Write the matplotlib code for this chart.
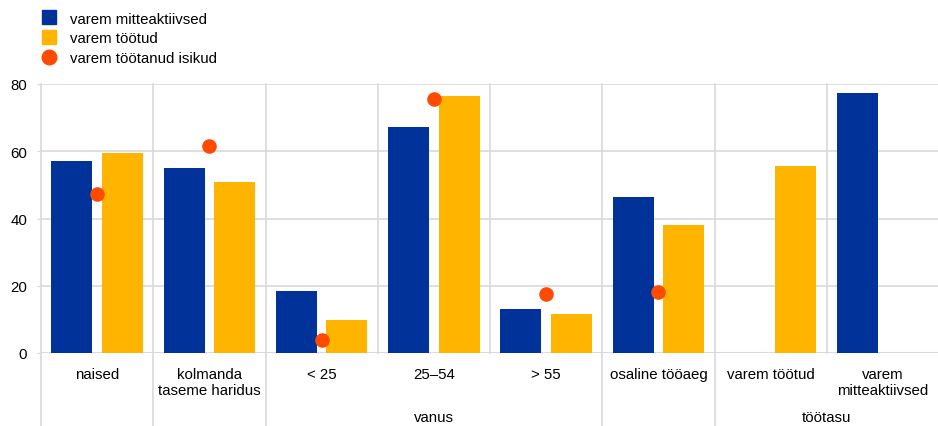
import numpy as np
import matplotlib.pyplot as plt
from matplotlib.lines import Line2D
import matplotlib.transforms as mtransforms

plt.rcParams['font.family'] = ['Liberation Sans', 'DejaVu Sans']

categories = ['naised', 'kolmanda\ntaseme haridus', '< 25', '25–54', '> 55',
              'osaline tööaeg', 'varem töötud', 'varem\nmitteaktiivsed']
inactive = [57.1, 54.9, 18.5, 67.2, 13.1, 46.4, np.nan, 77.4]
unemployed = [59.5, 50.9, 9.8, 76.5, 11.6, 38.1, 55.7, np.nan]
employed = [47.3, 61.6, 3.9, 75.6, 17.6, 18.2, np.nan, np.nan]
series_names = ['varem mitteaktiivsed', 'varem töötud', 'varem töötanud isikud']
groups = [('vanus', 2, 4), ('töötasu', 6, 7)]
yticks = [0, 20, 40, 60, 80]

blue = '#003299'
yellow = '#FFB400'
orange = '#FF4B00'
grid = '#d9d9d9'
fs = 10.8

fig = plt.figure(figsize=(9.38, 4.27), dpi=100)
ax = fig.add_axes([41 / 938, 73 / 427, 898 / 938, 269 / 427])

x = np.arange(len(categories))
w = 0.365
off = 0.225
ax.bar(x - off, inactive, w, color=blue, zorder=2)
ax.bar(x + off, unemployed, w, color=yellow, zorder=2)
ax.scatter(x, employed, s=110, color=orange, zorder=3, linewidths=0)

ax.set_xlim(-0.5, len(categories) - 0.5)
ax.set_ylim(0, 80)
ax.set_yticks(yticks)
ax.tick_params(axis='y', length=3, color=grid, pad=7, labelsize=fs)
ax.set_xticks([])
for s in ax.spines.values():
    s.set_visible(False)
ax.grid(axis='y', color=grid, lw=1.2, zorder=0)

# vertical separators
trans = mtransforms.blended_transform_factory(ax.transData, ax.transAxes)
long_lines = [-0.5, 0.5, 1.5, 4.5, 5.5]
for b in np.arange(-0.5, len(categories) - 0.5, 1.0):
    bottom = -0.275 if b in long_lines else 0
    ax.plot([b, b], [bottom, 1], transform=trans, color=grid, lw=1.2,
            clip_on=False, zorder=1)
ax.axhline(0, color=grid, lw=1.5, zorder=1)

for xi, lab in zip(x, categories):
    ax.text(xi, -0.053, lab, transform=trans, ha='center', va='top',
            fontsize=fs, linespacing=1.15)
for name, a, b in groups:
    ax.text((a + b) / 2, -0.213, name, transform=trans, ha='center', va='top',
            fontsize=fs)

handles = [Line2D([], [], marker='s', ls='', color=blue, markersize=10),
           Line2D([], [], marker='s', ls='', color=yellow, markersize=10),
           Line2D([], [], marker='o', ls='', color=orange, markersize=10.5)]
fig.legend(handles, series_names, loc='upper left', bbox_to_anchor=(0.033, 0.995),
           frameon=False, fontsize=fs, handlelength=1.0, handletextpad=0.9,
           labelspacing=0.38, borderaxespad=0.3)

fig.savefig('out.png', dpi=100)
